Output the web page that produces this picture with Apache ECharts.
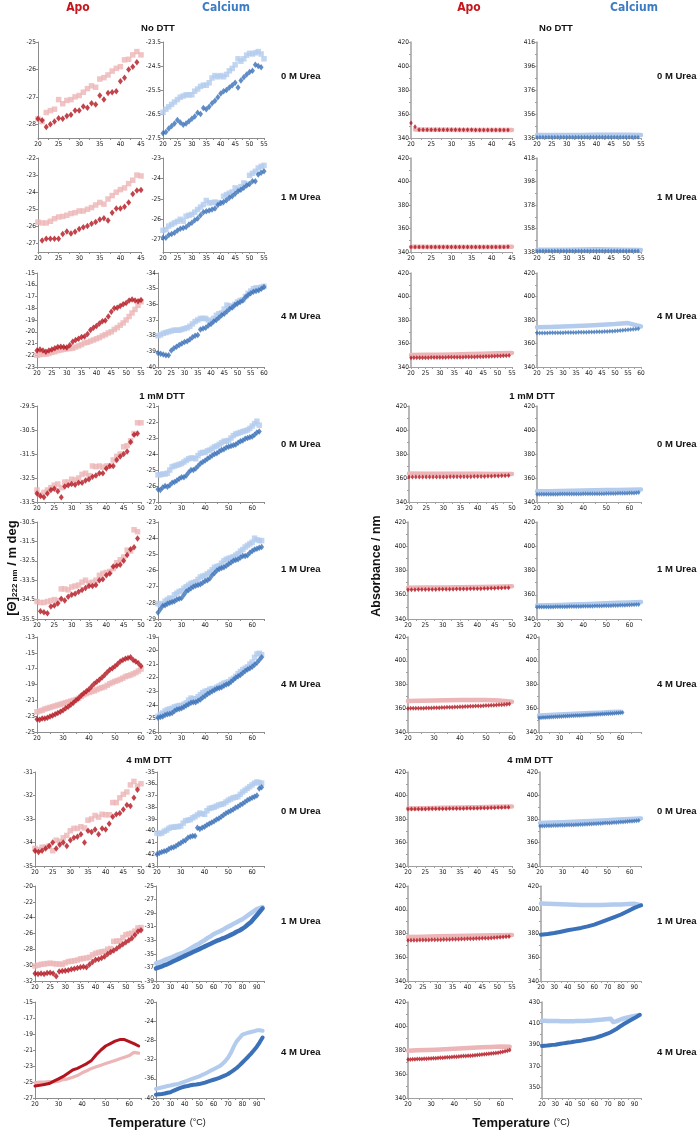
<!DOCTYPE html>
<html><head><meta charset="utf-8">
<script src="https://cdn.jsdelivr.net/npm/echarts@6/dist/echarts.min.js"></script>
<style>html,body{margin:0;padding:0;background:#fff}#c{width:700px;height:1133px}</style>
</head><body><div id="c"></div>
<script>
// ===== Tick labels =====
const XL_45 = [20,25,30,35,40,45];
const XL_50 = [20,25,30,35,40,45,50];
const XL_55 = [20,25,30,35,40,45,50,55];
const XL_60f = [20,25,30,35,40,45,50,55,60];
const XL_60 = [20,30,40,50,60];
const XL_90 = [20,30,40,50,60,70,80,90];

const YL_cd0_0a = [-28,-27,-26,-25];
const YL_cd0_0c = [-27.5,-26.5,-25.5,-24.5,-23.5];
const YL_cd0_1a = [-27,-26,-25,-24,-23,-22];
const YL_cd0_1c = [-27,-26,-25,-24,-23];
const YL_cd0_4a = [-23,-22,-21,-20,-19,-18,-17,-16,-15];
const YL_cd0_4c = [-40,-39,-38,-37,-36,-35,-34];
const YL_cd1_0a = [-33.5,-32.5,-31.5,-30.5,-29.5];
const YL_cd1_0c = [-27,-26,-25,-24,-23,-22,-21];
const YL_cd1_1a = [-35.5,-34.5,-33.5,-32.5,-31.5,-30.5];
const YL_cd1_1c = [-29,-28,-27,-26,-25,-24,-23];
const YL_cd1_4a = [-25,-23,-21,-19,-17,-15,-13];
const YL_cd1_4c = [-26,-25,-24,-23,-22,-21,-20,-19];
const YL_cd4_0a = [-35,-34,-33,-32,-31];
const YL_cd4_0c = [-43,-42,-41,-40,-39,-38,-37,-36,-35];
const YL_cd4_1a = [-32,-30,-28,-26,-24,-22,-20];
const YL_cd4_1c = [-39,-37,-35,-33,-31,-29,-27,-25];
const YL_cd4_4a = [-27,-25,-23,-21,-19,-17,-15];
const YL_cd4_4c = [-40,-36,-32,-28,-24,-20];
const YL_ab = [340,360,380,400,420];
const YL_ab336 = [336,356,376,396,416];
const YL_ab338 = [338,358,378,398,418];
const YL_ab430 = [350,370,390,410,430];

// ===== CD data (mdeg), h = heating (dark), c = cooling (light) =====
const cd0_0a_h = [-27.8,-27.85,-28.1,-28.0,-27.9,-27.78,-27.8,-27.7,-27.65,-27.5,-27.5,-27.35,-27.4,-27.23,-27.28,-26.95,-27.1,-26.86,-26.83,-26.8,-26.43,-26.3,-26.0,-25.9,-25.74];
const cd0_0a_c = [-27.8,-27.9,-27.57,-27.5,-27.45,-27.1,-27.25,-27.13,-27.1,-27.0,-26.95,-26.83,-26.7,-26.6,-26.65,-26.35,-26.3,-26.2,-26.06,-25.96,-25.9,-25.65,-25.63,-25.47,-25.35,-25.47];
const cd0_0c_h = [-27.3,-27.25,-27.1,-27.0,-26.9,-26.75,-26.85,-26.95,-26.9,-26.8,-26.7,-26.6,-26.45,-26.5,-26.25,-26.3,-26.2,-26.05,-25.95,-25.8,-25.65,-25.55,-25.5,-25.4,-25.3,-25.2,-25.4,-25.1,-24.97,-24.85,-24.75,-24.7,-24.45,-24.5,-24.55];
const cd0_0c_c = [-26.43,-26.3,-26.2,-26.1,-26.0,-25.9,-25.8,-25.75,-25.7,-25.7,-25.7,-25.55,-25.46,-25.35,-25.3,-25.3,-25.2,-25.0,-24.9,-24.95,-24.9,-24.95,-24.85,-24.7,-24.6,-24.45,-24.2,-24.3,-24.2,-24.05,-23.97,-24.0,-23.95,-23.9,-24.0,-24.2];
const cd0_1a_h = [-26.82,-26.72,-26.72,-26.72,-26.72,-26.45,-26.3,-26.42,-26.32,-26.15,-26.05,-25.98,-25.85,-25.75,-25.6,-25.52,-25.65,-25.2,-24.95,-24.95,-24.85,-24.6,-24.1,-23.9,-23.87];
const cd0_1a_c = [-25.75,-25.8,-25.8,-25.7,-25.55,-25.45,-25.42,-25.35,-25.25,-25.2,-25.1,-25.1,-25.0,-24.9,-24.75,-24.6,-24.7,-24.4,-24.2,-24.0,-23.85,-23.75,-23.5,-23.3,-23.0,-23.05];
const cd0_1c_h = [-26.9,-26.9,-26.77,-26.72,-26.66,-26.55,-26.46,-26.42,-26.38,-26.25,-26.17,-26.05,-25.96,-25.8,-25.65,-25.6,-25.57,-25.52,-25.47,-25.3,-25.2,-25.15,-25.07,-24.95,-24.87,-24.75,-24.63,-24.55,-24.46,-24.35,-24.27,-24.14,-24.14,-23.81,-23.72,-23.65];
const cd0_1c_c = [-26.54,-26.5,-26.33,-26.25,-26.17,-26.1,-26.0,-26.09,-25.85,-25.8,-25.76,-25.65,-25.52,-25.4,-25.28,-25.08,-25.2,-25.18,-25.16,-25.18,-25.2,-24.87,-24.79,-24.72,-24.66,-24.46,-24.54,-24.4,-24.22,-24.27,-23.85,-23.75,-23.65,-23.49,-23.41,-23.36];
const cd0_4a_h = [-21.6,-21.5,-21.6,-21.7,-21.6,-21.5,-21.4,-21.3,-21.28,-21.3,-21.35,-21.15,-20.85,-20.7,-20.6,-20.45,-20.4,-20.2,-19.85,-19.65,-19.5,-19.3,-19.1,-19.05,-18.7,-18.3,-18.0,-17.95,-17.8,-17.65,-17.55,-17.35,-17.25,-17.35,-17.4,-17.3];
const cd0_4a_c = [-22.0,-21.95,-21.9,-21.9,-21.85,-21.75,-21.7,-21.6,-21.55,-21.5,-21.45,-21.43,-21.4,-21.3,-21.2,-21.1,-20.95,-20.9,-20.8,-20.7,-20.6,-20.5,-20.35,-20.25,-20.1,-20.0,-19.8,-19.65,-19.45,-19.25,-19.0,-18.7,-18.4,-18.1,-17.75,-17.45];
const cd0_4c_h = [-39.1,-39.15,-39.2,-39.25,-39.25,-38.95,-38.8,-38.7,-38.6,-38.5,-38.4,-38.35,-38.25,-38.1,-38.0,-37.95,-37.6,-37.55,-37.5,-37.35,-37.25,-37.1,-37.0,-36.85,-36.7,-36.6,-36.45,-36.3,-36.2,-36.05,-35.95,-35.85,-35.75,-35.55,-35.4,-35.3,-35.2,-35.15,-35.1,-35.0,-34.9];
const cd0_4c_c = [-38.0,-37.95,-37.85,-37.8,-37.75,-37.7,-37.65,-37.65,-37.65,-37.6,-37.55,-37.5,-37.4,-37.25,-37.1,-37.0,-36.9,-36.9,-36.9,-37.0,-37.1,-36.9,-36.7,-36.6,-36.55,-36.3,-36.05,-36.1,-36.15,-36.0,-35.85,-35.75,-35.7,-35.5,-35.3,-35.15,-35.0,-34.95,-34.95,-34.9,-34.85];
const cd1_0a_h = [-33.15,-33.25,-33.3,-33.15,-33.0,-32.95,-33.05,-33.3,-32.85,-32.8,-32.75,-32.78,-32.7,-32.7,-32.6,-32.55,-32.45,-32.4,-32.3,-32.3,-32.1,-32.0,-32.0,-31.75,-31.6,-31.5,-31.4,-31.0,-30.7,-30.65];
const cd1_0a_c = [-33.0,-33.2,-33.1,-33.0,-32.9,-32.8,-32.75,-32.9,-32.67,-32.67,-32.55,-32.58,-32.5,-32.35,-32.3,-32.4,-32.0,-32.03,-32.0,-32.05,-32.0,-32.0,-31.75,-31.6,-31.5,-31.2,-31.15,-30.95,-30.65,-30.2,-30.2];
const cd1_0c_h = [-26.2,-26.25,-26.1,-26.0,-26.05,-25.95,-25.8,-25.75,-25.65,-25.55,-25.45,-25.45,-25.35,-25.15,-25.0,-25.0,-24.9,-24.75,-24.6,-24.5,-24.4,-24.3,-24.2,-24.1,-24.0,-23.95,-23.85,-23.75,-23.7,-23.6,-23.55,-23.5,-23.45,-23.4,-23.3,-23.2,-23.15,-23.05,-23.0,-22.95,-22.9,-22.8,-22.65,-22.6];
const cd1_0c_c = [-25.3,-25.3,-25.25,-25.25,-25.2,-25.0,-24.8,-24.75,-24.7,-24.65,-24.6,-24.5,-24.4,-24.3,-24.25,-24.25,-24.3,-24.1,-23.95,-23.9,-23.9,-23.8,-23.75,-23.65,-23.55,-23.5,-23.4,-23.3,-23.2,-23.2,-23.15,-23.0,-22.85,-22.75,-22.7,-22.65,-22.6,-22.55,-22.5,-22.4,-22.25,-22.1,-21.95,-22.2];
const cd1_1a_h = [-35.1,-35.15,-35.2,-34.85,-34.8,-34.7,-34.45,-34.55,-34.35,-34.25,-34.2,-34.1,-34.0,-33.9,-33.8,-33.8,-33.75,-33.5,-33.45,-33.25,-33.15,-32.8,-32.75,-32.7,-32.5,-32.2,-31.9,-31.8,-31.35];
const cd1_1a_c = [-34.6,-34.65,-34.65,-34.6,-34.55,-34.5,-34.55,-33.95,-33.95,-34.0,-33.85,-33.8,-33.75,-33.6,-33.5,-33.65,-33.6,-33.5,-33.25,-33.15,-33.1,-33.05,-32.9,-32.6,-32.45,-32.3,-31.95,-32.0,-30.9,-31.0];
const cd1_1c_h = [-28.6,-28.4,-28.2,-28.15,-28.05,-28.0,-27.95,-27.9,-27.8,-27.75,-27.7,-27.5,-27.3,-27.2,-27.1,-27.0,-26.95,-26.9,-26.85,-26.75,-26.65,-26.6,-26.5,-26.3,-26.15,-26.0,-25.9,-25.85,-25.8,-25.7,-25.6,-25.5,-25.4,-25.35,-25.3,-25.2,-25.1,-25.1,-25.05,-24.9,-24.8,-24.7,-24.65,-24.6,-24.55];
const cd1_1c_c = [-28.05,-28.15,-28.05,-27.9,-27.8,-27.7,-27.75,-27.5,-27.4,-27.3,-27.25,-27.1,-27.0,-26.9,-26.8,-26.75,-26.7,-26.55,-26.4,-26.35,-26.3,-26.2,-26.1,-25.95,-25.8,-25.75,-25.7,-25.55,-25.4,-25.3,-25.25,-25.2,-25.15,-25.05,-24.95,-24.8,-24.7,-24.55,-24.45,-24.35,-24.25,-24.0,-24.1,-24.15,-24.15];
const cd1_4a_h = [-23.4,-23.45,-23.3,-23.3,-23.2,-23.05,-22.9,-22.75,-22.6,-22.45,-22.25,-22.0,-21.8,-21.55,-21.3,-21.0,-20.75,-20.4,-20.1,-19.85,-19.6,-19.25,-18.9,-18.65,-18.4,-18.1,-17.8,-17.45,-17.15,-16.95,-16.7,-16.4,-16.1,-15.9,-15.75,-15.65,-15.55,-15.9,-16.1,-16.3,-16.65];
const cd1_4a_c = [-22.45,-22.35,-22.25,-22.1,-22.0,-21.9,-21.8,-21.7,-21.6,-21.5,-21.4,-21.3,-21.2,-21.1,-21.0,-20.9,-20.75,-20.5,-20.3,-20.15,-20.0,-19.9,-19.8,-19.65,-19.5,-19.4,-19.3,-19.1,-18.9,-18.75,-18.6,-18.5,-18.35,-18.2,-18.0,-17.9,-17.8,-17.65,-17.5,-17.3,-17.05,-16.95];
const cd1_4c_h = [-24.95,-24.9,-24.85,-24.75,-24.7,-24.65,-24.6,-24.45,-24.35,-24.3,-24.25,-24.15,-24.05,-23.95,-23.85,-23.8,-23.8,-23.7,-23.6,-23.45,-23.35,-23.2,-23.1,-23.0,-22.9,-22.8,-22.75,-22.7,-22.6,-22.5,-22.45,-22.3,-22.15,-22.0,-21.9,-21.8,-21.65,-21.5,-21.4,-21.3,-21.2,-21.05,-20.9,-20.7,-20.5];
const cd1_4c_c = [-24.85,-24.7,-24.6,-24.45,-24.35,-24.3,-24.25,-24.15,-24.1,-24.05,-24.05,-23.95,-23.85,-23.65,-23.5,-23.55,-23.55,-23.4,-23.25,-23.1,-23.0,-22.95,-22.85,-22.8,-22.8,-22.7,-22.6,-22.5,-22.4,-22.35,-22.3,-22.15,-22.05,-21.9,-21.7,-21.55,-21.4,-21.3,-21.2,-21.0,-20.85,-20.5,-20.25,-20.2,-20.3];
const cd4_0a_h = [-34.35,-34.4,-34.35,-34.25,-34.15,-34.0,-34.25,-34.1,-34.0,-34.15,-33.9,-33.8,-33.75,-33.65,-34.0,-33.5,-33.55,-33.45,-33.65,-33.4,-33.45,-33.2,-32.9,-32.8,-32.75,-32.6,-32.4,-32.45,-32.1,-31.75];
const cd4_0a_c = [-34.25,-34.3,-34.2,-34.2,-34.15,-34.35,-33.9,-33.95,-33.8,-33.7,-33.5,-33.4,-33.4,-33.33,-33.38,-33.05,-33.0,-32.85,-32.92,-32.8,-32.82,-32.82,-32.3,-32.3,-32.1,-31.95,-31.85,-31.55,-31.4,-31.6,-31.5];
const cd4_0c_h = [-42.0,-41.9,-41.8,-41.75,-41.7,-41.55,-41.45,-41.4,-41.3,-41.15,-41.05,-40.9,-40.8,-40.6,-40.5,-40.45,-40.45,-39.75,-39.85,-39.75,-39.65,-39.5,-39.4,-39.3,-39.2,-39.05,-38.95,-38.8,-38.65,-38.5,-38.4,-38.3,-38.2,-38.05,-37.95,-37.8,-37.7,-37.55,-37.4,-37.3,-37.2,-37.1,-37.0,-36.4,-36.3];
const cd4_0c_c = [-40.2,-40.25,-40.2,-40.05,-39.95,-39.8,-39.7,-39.7,-39.65,-39.65,-39.6,-39.35,-39.15,-39.1,-39.05,-38.9,-38.8,-38.65,-38.5,-38.55,-38.6,-38.3,-38.1,-38.05,-38.0,-37.9,-37.8,-37.75,-37.7,-37.55,-37.4,-37.3,-37.2,-37.15,-37.1,-36.9,-36.7,-36.55,-36.4,-36.25,-36.1,-35.95,-35.85,-35.9,-35.95];
const cd4_1a_h = [-31.05,-31.1,-31.05,-31.1,-31.0,-30.95,-31.05,-31.4,-30.8,-30.75,-30.7,-30.65,-30.5,-30.45,-30.35,-30.25,-30.2,-30.25,-29.9,-29.6,-29.3,-29.25,-29.1,-28.9,-28.6,-28.35,-28.15,-27.9,-27.6,-27.35,-27.1,-26.85,-26.6,-26.2,-25.75,-25.6];
const cd4_1a_c = [-30.1,-30.0,-29.9,-29.85,-29.8,-29.75,-29.8,-29.85,-29.85,-29.9,-29.7,-29.55,-29.5,-29.45,-29.35,-29.2,-29.15,-29.1,-29.0,-28.7,-28.5,-28.4,-28.3,-28.25,-28.0,-27.9,-27.0,-26.95,-26.95,-26.5,-26.15,-26.05,-25.95,-25.7,-25.3,-25.25];
const cd4_1c_h = [-37.15,-37.0,-36.85,-36.65,-36.5,-36.3,-36.1,-35.9,-35.7,-35.5,-35.3,-35.1,-34.9,-34.7,-34.5,-34.3,-34.1,-33.9,-33.7,-33.5,-33.3,-33.1,-32.95,-32.75,-32.6,-32.4,-32.2,-32.0,-31.75,-31.55,-31.3,-31.0,-30.65,-30.3,-29.8,-29.3,-28.8,-28.3];
const cd4_1c_c = [-36.4,-36.25,-36.1,-35.9,-35.75,-35.6,-35.4,-35.2,-35.05,-34.9,-34.7,-34.45,-34.2,-33.95,-33.7,-33.5,-33.2,-32.95,-32.65,-32.4,-32.1,-31.9,-31.7,-31.5,-31.25,-31.0,-30.8,-30.55,-30.35,-30.1,-29.9,-29.6,-29.3,-29.0,-28.7,-28.4,-28.25,-28.1];
const cd4_4a_h = [-25.5,-25.4,-25.3,-25.2,-24.9,-24.6,-24.3,-23.9,-23.5,-23.3,-23.0,-22.7,-22.3,-21.6,-21.0,-20.5,-20.2,-19.9,-19.7,-19.7,-19.95,-20.2,-20.5];
const cd4_4a_c = [-25.1,-25.0,-25.0,-24.95,-25.0,-24.9,-24.7,-24.6,-24.4,-24.2,-23.85,-23.6,-23.3,-23.1,-22.9,-22.7,-22.5,-22.3,-22.1,-21.9,-21.7,-21.3,-21.4];
const cd4_4c_h = [-39.3,-39.2,-39.15,-39.05,-38.9,-38.8,-38.5,-38.25,-38.0,-37.8,-37.6,-37.5,-37.35,-37.25,-37.2,-37.1,-36.95,-36.8,-36.6,-36.4,-36.2,-36.0,-35.8,-35.55,-35.3,-35.0,-34.6,-34.2,-33.75,-33.2,-32.6,-32.0,-31.4,-30.75,-30.05,-29.3,-28.4,-27.4];
const cd4_4c_c = [-38.1,-37.95,-37.8,-37.65,-37.5,-37.4,-37.25,-37.15,-37.0,-36.8,-36.6,-36.35,-36.1,-35.9,-35.7,-35.5,-35.2,-34.95,-34.65,-34.3,-34.0,-33.7,-33.4,-32.95,-32.35,-31.6,-30.6,-29.3,-28.2,-27.5,-26.8,-26.6,-26.4,-26.25,-26.1,-25.9,-25.9,-26.0];

// ===== Absorbance data (nm) =====
const ab0_0a_h = [352.4,349.3,346.9,346.8,346.8,346.8,346.8,346.8,346.8,346.8,346.8,346.8,346.8,346.8,346.8,346.8,346.7,346.7,346.7,346.7,346.7,346.7,346.7,346.7,346.7];
const ab0_0a_c = [347.0,346.8,346.8,346.7,346.7,346.7,346.7];
const ab0_0c_h = [336.7,336.6,336.6,336.6,336.6,336.6,336.6,336.6,336.6,336.6,336.6,336.6,336.6,336.6,336.6,336.6,336.6,336.6,336.6,336.6,336.6,336.6,336.6,336.6,336.6,336.7,336.7,336.7,336.7,336.7,336.7,336.7,336.7,336.7,336.7];
const ab0_0c_c = [338.6,338.6,338.6,338.6,338.7,338.8,338.8,338.5];
const ab0_1a_h = [344.3,344.3,344.3,344.3,344.3,344.3,344.3,344.3,344.3,344.3,344.3,344.3,344.3,344.3,344.3,344.3,344.3,344.3,344.3,344.3,344.3,344.3,344.3,344.3,344.4];
const ab0_1a_c = [344.4,344.3,344.3,344.3,344.3,344.4];
const ab0_1c_h = [338.8,338.8,338.8,338.8,338.8,338.8,338.8,338.8,338.8,338.8,338.8,338.8,338.8,338.8,338.8,338.8,338.8,338.8,338.8,338.9,338.9,338.9,338.9,338.9,338.9,338.9,338.9,338.9,338.9,338.9,338.9,338.9,338.9,338.9,338.9];
const ab0_1c_c = [340.0,340.0,340.0,340.2,340.3,340.2,340.0,339.8];
const ab0_4a_h = [347.8,347.8,347.8,347.8,347.9,347.9,347.9,348.0,348.0,348.0,348.1,348.1,348.1,348.2,348.2,348.3,348.3,348.4,348.4,348.5,348.5,348.6,348.6,348.7,348.8,348.8,348.9,349.0,349.1,349.2,349.3,349.4,349.5,349.6,349.8];
const ab0_4a_c = [350.3,350.4,350.5,350.7,351.0,351.3,351.7,352.0];
const ab0_4c_h = [369.0,369.0,369.0,369.0,369.0,369.1,369.1,369.1,369.2,369.2,369.2,369.3,369.3,369.3,369.4,369.4,369.5,369.5,369.6,369.6,369.7,369.8,369.8,369.9,370.0,370.1,370.2,370.3,370.4,370.5,370.6,370.8,371.0,371.2,371.4,371.6,371.9,372.2,372.4,372.6];
const ab0_4c_c = [373.8,374.1,374.5,374.9,375.3,375.9,376.5,377.4,374.5];
const ab1_0a_h = [360.8,360.8,360.8,360.8,360.8,360.8,360.8,360.9,360.9,360.9,360.9,360.9,361.0,361.0,361.0,361.0,361.1,361.1,361.1,361.2,361.2,361.3,361.3,361.4,361.5,361.6,361.7,361.8,361.9,362.0];
const ab1_0a_c = [363.7,363.6,363.5,363.5,363.5,363.4,363.3];
const ab1_0c_h = [346.5,346.5,346.5,346.5,346.5,346.5,346.5,346.5,346.5,346.5,346.6,346.6,346.6,346.6,346.6,346.7,346.7,346.7,346.7,346.7,346.8,346.8,346.8,346.8,346.8,346.9,346.9,346.9,346.9,346.9,347.0,347.0,347.0,347.0,347.0,347.2,347.2,347.2,347.2,347.2,347.4,347.5,347.6,347.8,348.0];
const ab1_0c_c = [349.0,349.0,349.2,349.3,349.5,349.7,349.9,350.1,350.3,350.5];
const ab1_1a_h = [364.2,364.2,364.2,364.3,364.3,364.3,364.4,364.4,364.4,364.5,364.5,364.5,364.6,364.6,364.7,364.7,364.8,364.8,364.9,364.9,365.0,365.0,365.1,365.2,365.3,365.4,365.5,365.6,365.7,365.8];
const ab1_1a_c = [365.8,365.9,366.0,366.2,366.4,366.7,367.0];
const ab1_1c_h = [349.8,349.8,349.9,349.9,349.9,350.0,350.0,350.0,350.1,350.1,350.1,350.2,350.2,350.2,350.3,350.3,350.3,350.4,350.4,350.4,350.5,350.5,350.6,350.6,350.6,350.7,350.7,350.8,350.8,350.9,350.9,351.0,351.0,351.1,351.1,351.2,351.3,351.3,351.4,351.5,351.6,351.7,351.8,351.9,352.0];
const ab1_1c_c = [351.1,351.3,351.6,351.9,352.2,352.6,353.0,353.4,353.7,354.0];
const ab1_4a_h = [359.8,359.9,359.9,360.0,360.0,360.1,360.1,360.2,360.3,360.3,360.4,360.5,360.5,360.6,360.7,360.8,360.8,360.9,361.0,361.1,361.2,361.3,361.4,361.5,361.6,361.7,361.8,361.9,362.0,362.1,362.3,362.4,362.5,362.6,362.8,362.9,363.0,363.2,363.3,363.5];
const ab1_4a_c = [366.2,366.4,366.6,366.8,367.0,367.0,367.0,366.5,365.5];
const ab1_4c_h = [352.0,352.1,352.2,352.3,352.4,352.5,352.6,352.7,352.8,352.9,353.0,353.1,353.2,353.3,353.4,353.5,353.6,353.7,353.8,353.9,354.0,354.1,354.2,354.3,354.4,354.5,354.6,354.7,354.8,354.9,355.0,355.1,355.2,355.3,355.4,355.5,355.6,355.8,355.9,356.1,356.3,356.5];
const ab1_4c_c = [354.0,354.3,354.7,355.1,355.5,355.9,356.3,356.8,357.1];
const ab4_0a_h = [388.5,388.5,388.5,388.6,388.6,388.6,388.7,388.7,388.7,388.8,388.8,388.8,388.9,388.9,388.9,389.0,389.0,389.1,389.1,389.2,389.2,389.3,389.3,389.4,389.5,389.6,389.7,389.8,389.9,390.0];
const ab4_0a_c = [389.0,389.2,389.5,389.8,390.1,390.4,390.6];
const ab4_0c_h = [374.0,374.0,374.1,374.2,374.2,374.3,374.4,374.4,374.5,374.6,374.6,374.7,374.8,374.8,374.9,375.0,375.1,375.2,375.3,375.4,375.5,375.6,375.7,375.8,375.9,376.0,376.1,376.2,376.3,376.5,376.6,376.7,376.8,377.0,377.1,377.2,377.4,377.5,377.7,377.8,378.0,378.1,378.3,378.5,378.8];
const ab4_0c_c = [376.6,377.0,377.3,377.7,378.0,378.5,379.0,379.6,380.1,380.5];
const ab4_1a_h = [374.3,374.3,374.4,374.4,374.5,374.5,374.6,374.6,374.7,374.7,374.8,374.8,374.9,375.0,375.0,375.1,375.2,375.2,375.3,375.4,375.5,375.6,375.6,375.7,375.8,375.9,376.0,376.1,376.3,376.5,376.7,376.9,377.1,377.3,377.5];
const ab4_1a_c = [377.0,377.3,377.6,377.9,378.1,378.3,378.6,378.8];
const ab4_1c_h = [379.0,379.6,380.4,381.5,382.7,383.7,384.7,386.0,387.5,389.5,391.7,393.8,396.0,398.8,401.6,403.8];
const ab4_1c_c = [405.3,405.1,404.9,404.7,404.5,404.3,404.1,404.0,403.9,404.0,404.2,404.4,404.5,404.8,405.0,403.8];
const ab4_4a_h = [372.0,372.1,372.2,372.3,372.4,372.5,372.6,372.7,372.8,372.9,373.0,373.1,373.2,373.4,373.5,373.6,373.8,373.9,374.0,374.2,374.3,374.4,374.6,374.7,374.9,375.0,375.2,375.3,375.5,375.6,375.8,376.0,376.2,376.4,376.6,376.8,377.0,377.3,377.5,377.8,378.1,378.5,378.9,379.4,380.0];
const ab4_4a_c = [379.4,379.7,380.0,380.3,380.7,381.0,381.4,381.8,382.2,382.6,383.0,382.8];
const ab4_4c_h = [388.7,389.0,389.2,389.5,389.8,390.0,390.4,390.8,391.2,391.6,392.0,392.3,392.7,393.1,393.4,393.8,394.3,394.8,395.3,395.8,396.3,397.1,397.9,398.7,399.6,400.5,401.7,403.0,404.4,406.1,407.8,409.3,410.8,412.2,413.5,414.9,416.4,417.9];
const ab4_4c_c = [412.5,412.4,412.3,412.2,412.2,412.1,412.1,412.0,412.0,412.0,412.0,412.0,412.0,412.1,412.1,412.2,412.3,412.4,412.5,412.7,412.9,413.1,413.3,413.5,413.8,414.1,414.3,411.2,411.8,412.8,413.8,414.5,415.2,415.8,416.4,416.9,417.3,417.7];

// ===== Plot table: p panel (0 CD, 1 absorbance), r row, c col (0 Apo, 1 Calcium) =====
// h/k: [values, first temperature, temperature step]
const spec = [
 {p:0,r:0,c:0,xmax:45,xl:XL_45,ymin:-28.5,ymax:-25,yl:YL_cd0_0a,h:[cd0_0a_h,20,1],k:[cd0_0a_c,20,1],m:'pts'},
 {p:0,r:0,c:1,xmax:55,xl:XL_55,ymin:-27.5,ymax:-23.5,yl:YL_cd0_0c,h:[cd0_0c_h,20,1],k:[cd0_0c_c,20,1],m:'pts'},
 {p:0,r:1,c:0,xmax:45,xl:XL_45,ymin:-27.5,ymax:-22,yl:YL_cd0_1a,h:[cd0_1a_h,21,1],k:[cd0_1a_c,20,1],m:'pts'},
 {p:0,r:1,c:1,xmax:55,xl:XL_55,ymin:-27.6,ymax:-23,yl:YL_cd0_1c,h:[cd0_1c_h,20,1],k:[cd0_1c_c,20,1],m:'pts'},
 {p:0,r:2,c:0,xmax:55,xl:XL_55,ymin:-23,ymax:-15,yl:YL_cd0_4a,h:[cd0_4a_h,20,1],k:[cd0_4a_c,20,1],m:'pts'},
 {p:0,r:2,c:1,xmax:60,xl:XL_60f,ymin:-40,ymax:-34,yl:YL_cd0_4c,h:[cd0_4c_h,20,1],k:[cd0_4c_c,20,1],m:'pts'},
 {p:0,r:3,c:0,xmax:50,xl:XL_50,ymin:-33.5,ymax:-29.5,yl:YL_cd1_0a,h:[cd1_0a_h,20,1],k:[cd1_0a_c,20,1],m:'pts'},
 {p:0,r:3,c:1,xmax:65,xl:XL_60,ymin:-27,ymax:-21,yl:YL_cd1_0c,h:[cd1_0c_h,20,1],k:[cd1_0c_c,20,1],m:'pts'},
 {p:0,r:4,c:0,xmax:50,xl:XL_50,ymin:-35.5,ymax:-30.5,yl:YL_cd1_1a,h:[cd1_1a_h,21,1],k:[cd1_1a_c,20,1],m:'pts'},
 {p:0,r:4,c:1,xmax:65,xl:XL_60,ymin:-29,ymax:-23,yl:YL_cd1_1c,h:[cd1_1c_h,20,1],k:[cd1_1c_c,20,1],m:'pts'},
 {p:0,r:5,c:0,xmax:60,xl:XL_60,ymin:-25,ymax:-13,yl:YL_cd1_4a,h:[cd1_4a_h,20,1],k:[cd1_4a_c,20,1],m:'pts'},
 {p:0,r:5,c:1,xmax:65,xl:XL_60,ymin:-26,ymax:-19,yl:YL_cd1_4c,h:[cd1_4c_h,20,1],k:[cd1_4c_c,20,1],m:'pts'},
 {p:0,r:6,c:0,xmax:50,xl:XL_50,ymin:-35,ymax:-31,yl:YL_cd4_0a,h:[cd4_0a_h,20,1],k:[cd4_0a_c,20,1],m:'pts'},
 {p:0,r:6,c:1,xmax:65,xl:XL_60,ymin:-43,ymax:-35,yl:YL_cd4_0c,h:[cd4_0c_h,20,1],k:[cd4_0c_c,20,1],m:'pts'},
 {p:0,r:7,c:0,xmax:55,xl:XL_55,ymin:-32,ymax:-20,yl:YL_cd4_1a,h:[cd4_1a_h,20,1],k:[cd4_1a_c,20,1],m:'pts'},
 {p:0,r:7,c:1,xmax:95,xl:XL_90,ymin:-39,ymax:-25,yl:YL_cd4_1c,h:[cd4_1c_h,20,2],k:[cd4_1c_c,20,2],m:'line',w:[4.5,4.5]},
 {p:0,r:8,c:0,xmax:65,xl:XL_60,ymin:-27,ymax:-15,yl:YL_cd4_4a,h:[cd4_4a_h,20,2],k:[cd4_4a_c,20,2],m:'line',w:[3,3.2]},
 {p:0,r:8,c:1,xmax:95,xl:XL_90,ymin:-40,ymax:-20,yl:YL_cd4_4c,h:[cd4_4c_h,20,2],k:[cd4_4c_c,20,2],m:'line',w:[4,4]},

 {p:1,r:0,c:0,xmax:45,xl:XL_45,ymin:340,ymax:420,yl:YL_ab,h:[ab0_0a_h,20,1],k:[ab0_0a_c,21,4],m:'abs'},
 {p:1,r:0,c:1,xmax:55,xl:XL_55,ymin:336,ymax:416,yl:YL_ab336,h:[ab0_0c_h,20,1],k:[ab0_0c_c,20,5],m:'abs'},
 {p:1,r:1,c:0,xmax:45,xl:XL_45,ymin:340,ymax:420,yl:YL_ab,h:[ab0_1a_h,20,1],k:[ab0_1a_c,20,5],m:'abs'},
 {p:1,r:1,c:1,xmax:55,xl:XL_55,ymin:338,ymax:418,yl:YL_ab338,h:[ab0_1c_h,20,1],k:[ab0_1c_c,20,5],m:'abs'},
 {p:1,r:2,c:0,xmax:55,xl:XL_55,ymin:340,ymax:420,yl:YL_ab,h:[ab0_4a_h,20,1],k:[ab0_4a_c,20,5],m:'abs'},
 {p:1,r:2,c:1,xmax:60,xl:XL_60f,ymin:340,ymax:420,yl:YL_ab,h:[ab0_4c_h,20,1],k:[ab0_4c_c,20,5],m:'abs'},
 {p:1,r:3,c:0,xmax:50,xl:XL_50,ymin:340,ymax:420,yl:YL_ab,h:[ab1_0a_h,20,1],k:[ab1_0a_c,20,5],m:'abs'},
 {p:1,r:3,c:1,xmax:65,xl:XL_60,ymin:340,ymax:420,yl:YL_ab,h:[ab1_0c_h,20,1],k:[ab1_0c_c,20,5],m:'abs'},
 {p:1,r:4,c:0,xmax:50,xl:XL_50,ymin:340,ymax:420,yl:YL_ab,h:[ab1_1a_h,20,1],k:[ab1_1a_c,20,5],m:'abs'},
 {p:1,r:4,c:1,xmax:65,xl:XL_60,ymin:340,ymax:420,yl:YL_ab,h:[ab1_1c_h,20,1],k:[ab1_1c_c,20,5],m:'abs'},
 {p:1,r:5,c:0,xmax:60,xl:XL_60,ymin:340,ymax:420,yl:YL_ab,h:[ab1_4a_h,20,1],k:[ab1_4a_c,20,5],m:'abs'},
 {p:1,r:5,c:1,xmax:70,xl:XL_60,ymin:340,ymax:420,yl:YL_ab,h:[ab1_4c_h,20,1],k:[ab1_4c_c,20,5],m:'abs'},
 {p:1,r:6,c:0,xmax:50,xl:XL_50,ymin:340,ymax:420,yl:YL_ab,h:[ab4_0a_h,20,1],k:[ab4_0a_c,20,5],m:'abs'},
 {p:1,r:6,c:1,xmax:65,xl:XL_60,ymin:340,ymax:420,yl:YL_ab,h:[ab4_0c_h,20,1],k:[ab4_0c_c,20,5],m:'abs'},
 {p:1,r:7,c:0,xmax:55,xl:XL_55,ymin:340,ymax:420,yl:YL_ab,h:[ab4_1a_h,20,1],k:[ab4_1a_c,20,5],m:'abs'},
 {p:1,r:7,c:1,xmax:95,xl:XL_90,ymin:340,ymax:420,yl:YL_ab,h:[ab4_1c_h,20,5],k:[ab4_1c_c,20,5],m:'absline'},
 {p:1,r:8,c:0,xmax:65,xl:XL_60,ymin:340,ymax:420,yl:YL_ab,h:[ab4_4a_h,20,1],k:[ab4_4a_c,20,4],m:'abs'},
 {p:1,r:8,c:1,xmax:95,xl:XL_90,ymin:340,ymax:430,yl:YL_ab430,h:[ab4_4c_h,20,2],k:[ab4_4c_c,20,2],m:'absline'}
];

// ===== Text =====
const headers = ['Apo','Calcium'];
const dttLabels = ['No DTT','1 mM DTT','4 mM DTT'];
const ureaLabels = ['0 M Urea','1 M Urea','4 M Urea'];

// ===== Layout (pixels) =====
const ROWS = [[42,138],[158,252],[273,367],[406,502],[522,619],[637,732],[772,866],[886,981],[1002,1098]];
const COL_LEFT = [
 [38,38,37,37,37,37,35,35,35],
 [163,163,158,158,158,158,157,156,156],
 [411,411,411,409,408,408,408,408,408],
 [537,537,537,537,537,539,540,541,542]
];
const COL_RIGHT = [141,264,512,641];
const UREA_Y = [76,197,316,444,569,684,811,921,1052];
const DTT_Y = [28,396,760];
const DTT_X = [[158,556],[162,532],[149,530]];

const FONT_N = '"Liberation Sans Narrow","DejaVu Sans Condensed",sans-serif';
const FONT_B = '"Liberation Sans",Arial,sans-serif';
const COLORS = {apoD:'#b3141e', apoL:'#ecb5b7', caD:'#3a71b8', caL:'#b3ccee', apoHead:'#c4161c', caHead:'#3c7cc4'};

function pairs(v,t0,dt){return v.map((y,i)=>[+(t0+i*dt).toFixed(3), y]);}

const grids=[], xAxes=[], yAxes=[], series=[];
spec.forEach((s,i)=>{
  const ci = s.p*2 + s.c;
  const left = COL_LEFT[ci][s.r], right = COL_RIGHT[ci];
  const [top,bot] = ROWS[s.r];
  grids.push({left:left, top:top, width:right-left, height:bot-top});
  const step = s.xl[1]-s.xl[0];
  const xt=[]; for(let v=20; v<=s.xmax+1e-6; v+=step/2) xt.push(+v.toFixed(3));
  const ystep = s.yl[1]-s.yl[0];
  let yt = s.yl.slice();
  if (s.p===1){ yt=[]; for(let v=s.yl[0]-ystep/2; v<=s.ymax+1e-6; v+=ystep/2) if (v>=s.ymin-1e-6) yt.push(+v.toFixed(3)); }
  const axCol = s.p===1 ? '#a0a0a0' : '#8c8c8c';
  xAxes.push({type:'value', gridIndex:i, min:20, max:s.xmax,
    axisLine:{show:true,onZero:false,lineStyle:{color:axCol,width:1}},
    axisTick:{show:true,length:2,customValues:xt,lineStyle:{color:axCol,width:1}},
    axisLabel:{customValues:s.xl, fontSize:6.5, fontFamily:FONT_N, color:'#1a1a1a', margin:3},
    splitLine:{show:false}});
  yAxes.push({type:'value', gridIndex:i, min:s.ymin, max:s.ymax,
    axisLine:{show:true,onZero:false,lineStyle:{color:axCol,width:s.p===1?1.5:1}},
    axisTick:{show:true,length:2,customValues:yt,lineStyle:{color:axCol,width:1}},
    axisLabel:{customValues:s.yl, fontSize:6.5, fontFamily:FONT_N, color:'#1a1a1a', margin:2},
    splitLine:{show:false}});
  const dC = s.c===0?COLORS.apoD:COLORS.caD, lC = s.c===0?COLORS.apoL:COLORS.caL;
  const dData = pairs(s.h[0],s.h[1],s.h[2]), lData = pairs(s.k[0],s.k[1],s.k[2]);
  const base = {xAxisIndex:i, yAxisIndex:i, silent:true, animation:false};
  if (s.m==='pts'){
    series.push(Object.assign({type:'scatter', data:lData, symbol:'rect', symbolSize:5.5, itemStyle:{color:lC}, z:2}, base));
    series.push(Object.assign({type:'scatter', data:dData, symbol:'diamond', symbolSize:[5,6.5], itemStyle:{color:dC}, z:3}, base));
  } else if (s.m==='line'){
    series.push(Object.assign({type:'line', data:lData, showSymbol:false, symbol:'none', lineStyle:{color:lC,width:s.w[1],cap:'round',join:'round'}, z:2}, base));
    series.push(Object.assign({type:'line', data:dData, showSymbol:false, symbol:'none', lineStyle:{color:dC,width:s.w[0],cap:'round',join:'round'}, z:3}, base));
  } else if (s.m==='abs'){
    series.push(Object.assign({type:'line', data:lData, showSymbol:false, symbol:'none', lineStyle:{color:lC,width:4.5,cap:'round',join:'round'}, z:2}, base));
    series.push(Object.assign({type:'scatter', data:dData, symbol:'diamond', symbolSize:[3.5,5], itemStyle:{color:dC}, z:3}, base));
  } else {
    series.push(Object.assign({type:'line', data:lData, showSymbol:false, symbol:'none', lineStyle:{color:lC,width:4.5,cap:'round',join:'round'}, z:2}, base));
    series.push(Object.assign({type:'line', data:dData, showSymbol:false, symbol:'none', lineStyle:{color:dC,width:4,cap:'round',join:'round'}, z:3}, base));
  }
});

// ===== Graphic texts =====
const g = [];
function txt(x,y,text,font,fill,align,extra){
  g.push(Object.assign({type:'text', x:x, y:y, silent:true, style:{text:text, font:font, fill:fill||'#111', align:align||'center', verticalAlign:'middle'}}, extra||{}));
}
[[78,226],[469,634]].forEach(xs=>{
  txt(xs[0],8,headers[0],'bold 12px '+FONT_N,COLORS.apoHead);
  txt(xs[1],8,headers[1],'bold 12px '+FONT_N,COLORS.caHead);
});
DTT_Y.forEach((y,j)=>{ txt(DTT_X[j][0],y,dttLabels[j],'bold 9.5px '+FONT_B,'#111'); txt(DTT_X[j][1],y,dttLabels[j],'bold 9.5px '+FONT_B,'#111'); });
UREA_Y.forEach((y,j)=>{ txt(281,y,ureaLabels[j%3],'bold 9.5px '+FONT_B,'#111','left'); txt(657,y,ureaLabels[j%3],'bold 9.5px '+FONT_B,'#111','left'); });
g.push({type:'text', x:11, y:568, rotation:Math.PI/2, silent:true, style:{text:'{a|[Θ]}{b|222 nm}{a| / m deg}', align:'center', verticalAlign:'middle',
  rich:{a:{font:'bold 13px '+FONT_B, fill:'#111', lineHeight:16, verticalAlign:'bottom'}, b:{font:'bold 8px '+FONT_B, fill:'#111', lineHeight:16, verticalAlign:'bottom'}}}});
g.push({type:'text', x:377, y:566, rotation:Math.PI/2, silent:true, style:{text:'Absorbance / nm', font:'bold 12.5px '+FONT_B, fill:'#111', align:'center', verticalAlign:'middle'}});
[157,521].forEach(x=>{
  g.push({type:'text', x:x, y:1123, silent:true, style:{text:'{a|Temperature }{b|(°C)}', align:'center', verticalAlign:'middle',
    rich:{a:{font:'bold 13px '+FONT_B, fill:'#111', lineHeight:16, verticalAlign:'middle'}, b:{font:'9px '+FONT_B, fill:'#111', lineHeight:16, verticalAlign:'middle'}}}});
});

const chart = echarts.init(document.getElementById('c'), null, {renderer:'canvas', width:700, height:1133});
chart.setOption({animation:false, backgroundColor:'#fff', grid:grids, xAxis:xAxes, yAxis:yAxes, series:series, graphic:g});
</script></body></html>
